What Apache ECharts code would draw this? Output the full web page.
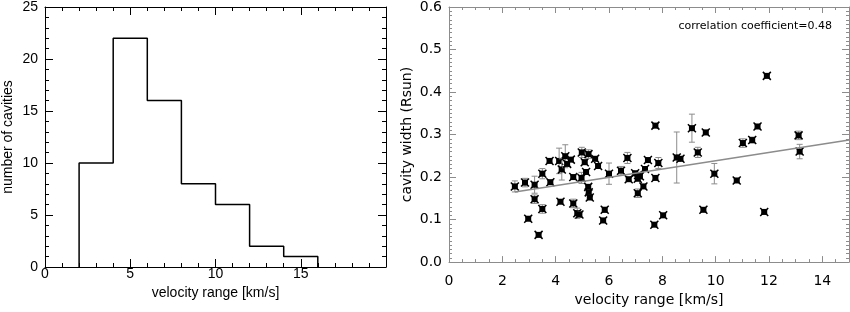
<!DOCTYPE html>
<html>
<head>
<meta charset="utf-8">
<script src="https://cdn.jsdelivr.net/npm/echarts@6/dist/echarts.min.js"></script>
<style>
html, body { margin: 0; padding: 0; background: #fff; }
#main { width: 850px; height: 312px; }
</style>
</head>
<body>
<div id="main"></div>
<script>
// histogram: bin edges and counts
var binEdges = [2, 4, 6, 8, 10, 12, 14, 16];
var binCounts = [10, 22, 16, 8, 6, 2, 1];

// scatter: velocity range, cavity width, error
var velRange = [2.47, 2.85, 2.97, 3.21, 3.21, 3.36, 3.50, 3.50, 3.77, 3.80,
    4.13, 4.18, 4.23, 4.36, 4.43, 4.57, 4.66, 4.66, 4.81, 4.89,
    4.97, 4.98, 5.09, 5.14, 5.22, 5.23, 5.24, 5.28, 5.48, 5.59,
    5.78, 5.84, 6.00, 6.45, 6.69, 6.74, 6.98, 7.08, 7.08, 7.09,
    7.16, 7.29, 7.35, 7.46, 7.70, 7.74, 7.74, 7.85, 8.03, 8.54,
    8.68, 9.11, 9.33, 9.54, 9.63, 9.95, 10.79, 11.02, 11.37, 11.57,
    11.82, 11.92, 13.11, 13.15];
var cavWidth = [0.178, 0.187, 0.102, 0.182, 0.148, 0.064, 0.208, 0.125, 0.238, 0.188,
    0.238, 0.142, 0.218, 0.249, 0.231, 0.241, 0.200, 0.138, 0.115, 0.112,
    0.198, 0.258, 0.235, 0.212, 0.177, 0.254, 0.164, 0.152, 0.243, 0.226,
    0.098, 0.123, 0.208, 0.215, 0.245, 0.195, 0.209, 0.196, 0.162, 0.205,
    0.202, 0.178, 0.219, 0.240, 0.088, 0.321, 0.198, 0.233, 0.110, 0.246,
    0.243, 0.315, 0.258, 0.123, 0.305, 0.208, 0.192, 0.280, 0.287, 0.319,
    0.118, 0.438, 0.298, 0.260];
var widthErr = [0.013, 0.010, 0.004, 0.020, 0.010, 0.003, 0.012, 0.010, 0.004, 0.004,
    0.030, 0.004, 0.025, 0.027, 0.005, 0.004, 0.004, 0.010, 0.012, 0.006,
    0.013, 0.012, 0.005, 0.004, 0.005, 0.010, 0.005, 0.005, 0.005, 0.005,
    0.004, 0.006, 0.025, 0.010, 0.013, 0.004, 0.004, 0.004, 0.010, 0.004,
    0.004, 0.004, 0.005, 0.004, 0.004, 0.005, 0.004, 0.013, 0.004, 0.060,
    0.005, 0.033, 0.012, 0.004, 0.005, 0.024, 0.004, 0.010, 0.007, 0.004,
    0.004, 0.004, 0.010, 0.017];

// linear fit
var fitX = [2.47, 15];
var fitSlope = 0.00974, fitIntercept = 0.141;

var myChart = echarts.init(document.getElementById('main'));

// histogram outline as a step line
var histLine = [[binEdges[0], 0]];
for (var i = 0; i < binCounts.length; i++) {
    histLine.push([binEdges[i], binCounts[i]]);
    histLine.push([binEdges[i + 1], binCounts[i]]);
}
histLine.push([binEdges[binEdges.length - 1], 0]);

var scatterData = velRange.map(function (v, i) {
    return [v, cavWidth[i], widthErr[i]];
});
var fitData = fitX.map(function (x) { return [x, fitIntercept + fitSlope * x]; });

var leftFont = 'Liberation Sans';
var rightFont = 'DejaVu Sans';
var gray = '#8c8c8c';

function axisBase(color, mainLen) {
    return {
        axisLine: { show: true, onZero: false, lineStyle: { color: color, width: 1 } },
        axisTick: { show: true, inside: true, length: mainLen, lineStyle: { color: color } },
        splitLine: { show: false }
    };
}

var option = {
    animation: false,
    grid: [
        { left: 44, top: 6, width: 342, height: 261 },
        { left: 449, top: 7, width: 400, height: 260 }
    ],
    xAxis: [
        Object.assign(axisBase('#000', 8), {
            type: 'value', gridIndex: 0, min: 0, max: 20, interval: 5,
            minorTick: { show: true, splitNumber: 5, length: 4, lineStyle: { color: '#000' } },
            axisLabel: { color: '#000', fontFamily: leftFont, fontSize: 14, margin: 0, showMaxLabel: false },
            name: 'velocity range [km/s]', nameLocation: 'middle', nameGap: 18,
            nameTextStyle: { color: '#000', fontFamily: leftFont, fontSize: 14 }
        }),
        Object.assign(axisBase('#000', 8), {
            type: 'value', gridIndex: 0, min: 0, max: 20, interval: 5, position: 'top',
            minorTick: { show: true, splitNumber: 5, length: 4, lineStyle: { color: '#000' } },
            axisLabel: { show: false }
        }),
        Object.assign(axisBase(gray, 6), {
            type: 'value', gridIndex: 1, min: 0, max: 15, interval: 2,
            minorTick: { show: true, splitNumber: 4, length: 3, lineStyle: { color: gray } },
            axisLabel: { color: '#000', fontFamily: rightFont, fontSize: 14, margin: 12, showMaxLabel: false },
            name: 'velocity range [km/s]', nameLocation: 'middle', nameGap: 30,
            nameTextStyle: { color: '#000', fontFamily: rightFont, fontSize: 14 }
        }),
        Object.assign(axisBase(gray, 6), {
            type: 'value', gridIndex: 1, min: 0, max: 15, interval: 2, position: 'top',
            minorTick: { show: true, splitNumber: 4, length: 3, lineStyle: { color: gray } },
            axisLabel: { show: false }
        })
    ],
    yAxis: [
        Object.assign(axisBase('#000', 8), {
            type: 'value', gridIndex: 0, min: 0, max: 25, interval: 5,
            minorTick: { show: true, splitNumber: 5, length: 4, lineStyle: { color: '#000' } },
            axisLabel: { color: '#000', fontFamily: leftFont, fontSize: 14, margin: 7 },
            name: 'number of cavities', nameLocation: 'middle', nameGap: 30,
            nameTextStyle: { color: '#000', fontFamily: leftFont, fontSize: 14 }
        }),
        Object.assign(axisBase('#000', 8), {
            type: 'value', gridIndex: 0, min: 0, max: 25, interval: 5, position: 'right',
            minorTick: { show: true, splitNumber: 5, length: 4, lineStyle: { color: '#000' } },
            axisLabel: { show: false }
        }),
        Object.assign(axisBase(gray, 7), {
            type: 'value', gridIndex: 1, min: 0, max: 0.6, interval: 0.1,
            minorTick: { show: true, splitNumber: 10, length: 3, lineStyle: { color: gray } },
            axisLabel: { color: '#000', fontFamily: rightFont, fontSize: 14, margin: 7,
                formatter: function (v) { return v.toFixed(1); } },
            name: 'cavity width (Rsun)', nameLocation: 'middle', nameGap: 35,
            nameTextStyle: { color: '#000', fontFamily: rightFont, fontSize: 14 }
        }),
        Object.assign(axisBase(gray, 7), {
            type: 'value', gridIndex: 1, min: 0, max: 0.6, interval: 0.1, position: 'right',
            minorTick: { show: true, splitNumber: 10, length: 3, lineStyle: { color: gray } },
            axisLabel: { show: false }
        })
    ],
    graphic: [{
        type: 'text', right: 18, top: 21,
        style: { text: 'correlation coefficient=0.48', fill: '#000', font: '11px "DejaVu Sans"' }
    }],
    series: [
        {
            type: 'line', xAxisIndex: 0, yAxisIndex: 0, data: histLine,
            symbol: 'none', lineStyle: { color: '#000', width: 1.5 }
        },
        {
            type: 'line', xAxisIndex: 2, yAxisIndex: 2, data: fitData,
            symbol: 'none', lineStyle: { color: gray, width: 1.5 }
        },
        {
            type: 'custom', xAxisIndex: 2, yAxisIndex: 2, data: scatterData,
            renderItem: function (params, api) {
                var p = api.coord([api.value(0), api.value(1)]);
                var hi = api.coord([api.value(0), api.value(1) + api.value(2)]);
                var lo = api.coord([api.value(0), api.value(1) - api.value(2)]);
                var es = { stroke: gray, lineWidth: 1 };
                var ms = { stroke: '#000', lineWidth: 1.5 };
                return {
                    type: 'group',
                    children: [
                        { type: 'line', shape: { x1: p[0], y1: hi[1], x2: p[0], y2: lo[1] }, style: es },
                        { type: 'line', shape: { x1: p[0] - 3, y1: hi[1], x2: p[0] + 3, y2: hi[1] }, style: es },
                        { type: 'line', shape: { x1: p[0] - 3, y1: lo[1], x2: p[0] + 3, y2: lo[1] }, style: es },
                        { type: 'rect', shape: { x: p[0] - 3, y: p[1] - 3, width: 6, height: 6 }, style: { fill: '#000' } },
                        { type: 'line', shape: { x1: p[0] - 4, y1: p[1] - 4, x2: p[0] + 4, y2: p[1] + 4 }, style: ms },
                        { type: 'line', shape: { x1: p[0] - 4, y1: p[1] + 4, x2: p[0] + 4, y2: p[1] - 4 }, style: ms }
                    ]
                };
            }
        }
    ]
};

myChart.setOption(option);
</script>
</body>
</html>
